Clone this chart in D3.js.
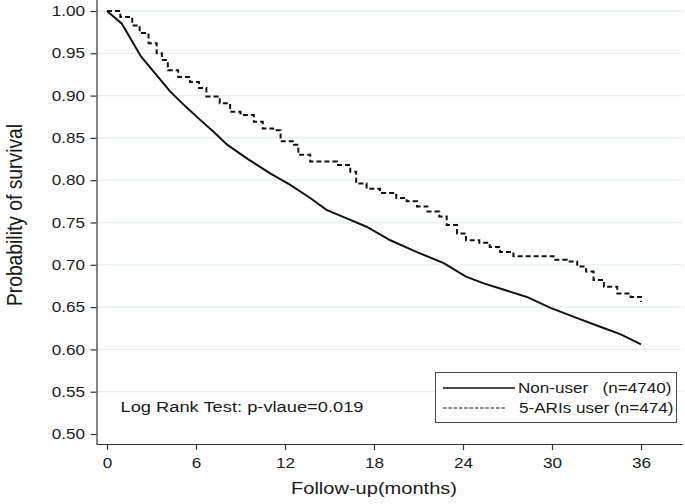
<!DOCTYPE html>
<html>
<head>
<meta charset="utf-8">
<script src="https://cdn.jsdelivr.net/npm/d3@7"></script>
<style>
  body { margin: 0; background: #fff; }
  text { font-family: "Liberation Sans", Arial, sans-serif; fill: #1a1a1a; }
</style>
</head>
<body>
<script>
// Kaplan-Meier estimates (months, survival)
var nonUserTime = [0, 1, 2.3, 3.3, 4.25, 5.3, 6.3, 7.2, 8.1, 9.5, 11, 12.3, 13.7, 14.8, 16, 17.5, 19.1, 20.9, 22.7, 24.2, 25.4, 26.5, 28.3, 29.9, 31.7, 33.2, 34.6, 36]
var nonUserSurv = [1, 0.985, 0.946, 0.925, 0.905, 0.887, 0.871, 0.857, 0.842, 0.825, 0.808, 0.795, 0.779, 0.765, 0.756, 0.745, 0.729, 0.715, 0.702, 0.686, 0.678, 0.672, 0.662, 0.649, 0.637, 0.627, 0.618, 0.606]

var userTime = [0, 0.9, 1.7, 2.2, 2.8, 3.35, 3.7, 4.1, 4.8, 5.6, 6.2, 6.7, 7.6, 8.3, 9.0, 9.9, 10.5, 11.2, 11.7, 12.6, 12.9, 13.7, 15.5, 16.4, 16.8, 17.5, 18.4, 19.5, 20.2, 20.9, 21.6, 22.4, 22.9, 23.6, 24.2, 25.1, 25.8, 26.5, 27.4, 29.2, 30.1, 31.0, 31.7, 32.3, 32.8, 33.5, 34.4, 35.3, 36]
var userSurv = [1, 0.993, 0.983, 0.974, 0.962, 0.950, 0.942, 0.930, 0.922, 0.916, 0.909, 0.899, 0.891, 0.881, 0.877, 0.869, 0.861, 0.859, 0.846, 0.842, 0.830, 0.822, 0.818, 0.810, 0.796, 0.790, 0.785, 0.779, 0.775, 0.769, 0.763, 0.757, 0.747, 0.737, 0.729, 0.726, 0.721, 0.715, 0.710, 0.710, 0.706, 0.704, 0.698, 0.692, 0.682, 0.674, 0.666, 0.662, 0.656]

var xTicks = [0, 6, 12, 18, 24, 30, 36]
var yTicks = [0.50, 0.55, 0.60, 0.65, 0.70, 0.75, 0.80, 0.85, 0.90, 0.95, 1.00]
var legendLabels = ['Non-user   (n=4740)', '5-ARIs user (n=474)']

var width = 685, height = 504
var left = 96.5, right = 683, bottom = 444
var sx = 1.18   // the source image is a little stretched sideways, so is its text

var x = d3.scaleLinear().domain([0, 36]).range([107, 641])
var y = d3.scaleLinear().domain([0.5, 1]).range([434, 11])

var svg = d3.select('body')
  .append('svg')
  .attr('width', width)
  .attr('height', height)

// grid
svg.append('g')
  .selectAll('line')
  .data(yTicks.filter(function(d) { return d > 0.5 }))
  .enter()
  .append('line')
  .attr('x1', left).attr('x2', right)
  .attr('y1', function(d) { return y(d) }).attr('y2', function(d) { return y(d) })
  .style('stroke', '#e6eff1')
  .style('stroke-width', '1.3px')

// axes
var xAxis = svg.append('g')
  .attr('transform', 'translate(0,' + bottom + ')')
  .call(d3.axisBottom(x).tickValues(xTicks).tickSize(6).tickPadding(8).tickSizeOuter(0))
xAxis.select('.domain').attr('d', 'M' + left + ',0.5H' + right)
xAxis.selectAll('.tick text').attr('transform', 'scale(' + sx + ',1)')

var yAxis = svg.append('g')
  .attr('transform', 'translate(' + left + ',0)')
  .call(d3.axisLeft(y).tickValues(yTicks).tickFormat(d3.format('.2f')).tickSize(6).tickSizeOuter(0))
yAxis.select('.domain').attr('d', 'M0.5,0V' + bottom)
yAxis.selectAll('.tick text')
  .attr('x', -11.5 / sx)
  .attr('transform', 'scale(' + sx + ',1)')

svg.selectAll('.tick text')
  .style('font-size', '14.5px')
  .style('font-family', '"Liberation Sans", Arial, sans-serif')
  .style('fill', '#1a1a1a')
svg.selectAll('.domain, .tick line')
  .style('stroke', '#333')
  .style('stroke-width', '1.2px')

// curves
var line = d3.line()
  .x(function(d) { return x(d[0]) })
  .y(function(d) { return y(d[1]) })

var stepLine = d3.line()
  .curve(d3.curveStepAfter)
  .x(function(d) { return x(d[0]) })
  .y(function(d) { return y(d[1]) })

svg.append('path')
  .datum(d3.zip(nonUserTime, nonUserSurv))
  .attr('d', line)
  .style('fill', 'none')
  .style('stroke', '#111')
  .style('stroke-width', '2px')

svg.append('path')
  .datum(d3.zip(userTime, userSurv))
  .attr('d', stepLine)
  .style('fill', 'none')
  .style('stroke', '#111')
  .style('stroke-width', '2px')
  .style('stroke-dasharray', '5,3')

// stretched text helper
function label(px, py, size, str, anchor, rot) {
  return svg.append('text')
    .attr('transform', 'translate(' + px + ',' + py + ') scale(' + sx + ',1)' + (rot ? ' rotate(' + rot + ')' : ''))
    .attr('text-anchor', anchor || 'start')
    .style('font-size', size + 'px')
    .style('white-space', 'pre')
    .text(str)
}

// axis titles
label((107 + 641) / 2, 494, 17, 'Follow-up(months)', 'middle')
label(21.5, 215, 19.3, 'Probability of survival', 'middle', -90)

// annotation
label(120.5, 412, 15.5, 'Log Rank Test: p-vlaue=0.019')

// legend
var legend = svg.append('g')
legend.append('rect')
  .attr('x', 435.5).attr('y', 372.5)
  .attr('width', 241).attr('height', 50)
  .style('fill', '#fff')
  .style('stroke', '#444')
  .style('stroke-width', '1px')

legend.append('line')
  .attr('x1', 443).attr('x2', 515)
  .attr('y1', 388).attr('y2', 388)
  .style('stroke', '#111')
  .style('stroke-width', '1.6px')
legend.append('line')
  .attr('x1', 443).attr('x2', 506)
  .attr('y1', 408).attr('y2', 408)
  .style('stroke', '#111')
  .style('stroke-width', '1px')
  .style('stroke-dasharray', '3.5,1.8')

legendLabels.forEach(function(d, i) {
  label(518 + i, 393 + i * 20, 14.5, d)
})
</script>
</body>
</html>
